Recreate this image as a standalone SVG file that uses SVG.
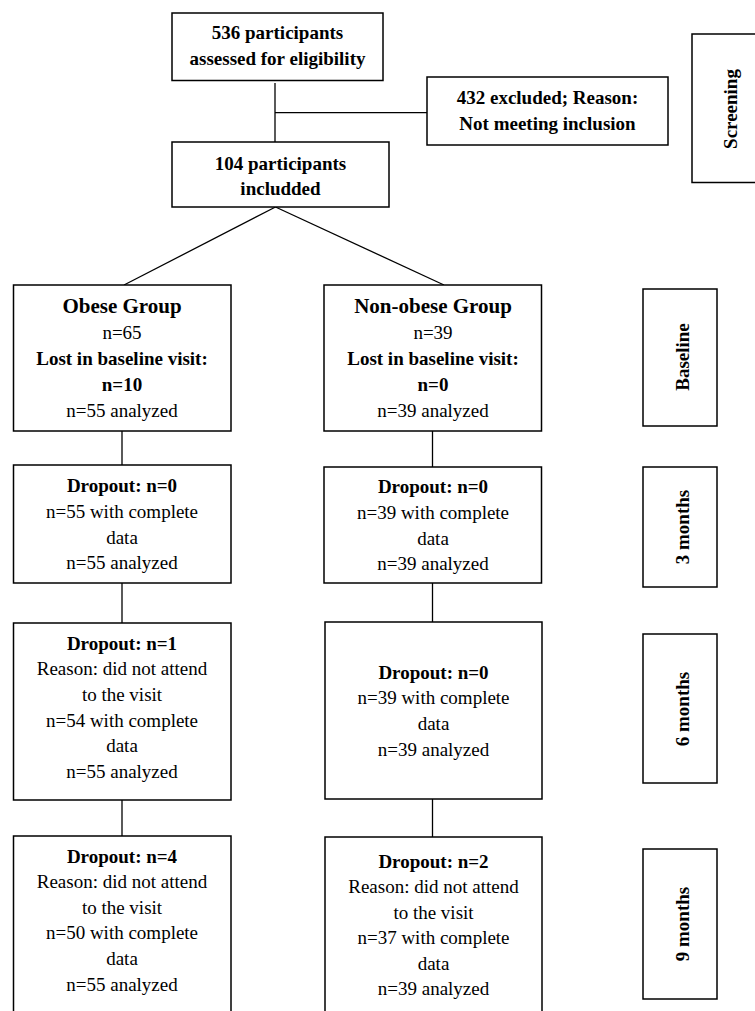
<svg xmlns="http://www.w3.org/2000/svg" width="755" height="1011" viewBox="0 0 755 1011" font-family="'Liberation Serif', Tinos, 'Times New Roman', 'DejaVu Serif', serif">
<style>
.box{fill:#fff;stroke:#000;stroke-width:1.5}
.ln{fill:none;stroke:#000;stroke-width:1.3}
text{font-family:'Liberation Serif', Tinos, 'Times New Roman', 'DejaVu Serif', serif;font-size:19px;fill:#000;text-anchor:middle}
.b{font-weight:bold}
.g{font-size:21px;font-weight:bold}
</style>
<rect width="755" height="1011" fill="#fff"/>
<g id="connectors">
<line class="ln" x1="275" y1="83" x2="275" y2="143"/>
<line class="ln" x1="275" y1="112.7" x2="427" y2="112.7"/>
<line class="ln" x1="275.5" y1="207" x2="124" y2="285"/>
<line class="ln" x1="275.5" y1="207" x2="444" y2="285"/>
<line class="ln" x1="122" y1="431" x2="122" y2="465"/>
<line class="ln" x1="122" y1="583" x2="122" y2="623"/>
<line class="ln" x1="122" y1="800" x2="122" y2="836"/>
<line class="ln" x1="432.5" y1="431" x2="432.5" y2="467"/>
<line class="ln" x1="432.5" y1="583" x2="432.5" y2="622"/>
<line class="ln" x1="432.5" y1="799" x2="432.5" y2="837"/>
</g>
<g id="assessed">
<rect class="box" x="172" y="13" width="211" height="67.5"/>
<text class="b" x="277.5" y="39">536 participants</text>
<text class="b" x="277.5" y="64.5">assessed for eligibility</text>
</g>
<g id="excluded">
<rect class="box" x="427" y="77" width="241" height="68"/>
<text class="b" x="547.5" y="104">432 excluded; Reason:</text>
<text class="b" x="547.5" y="129.5">Not meeting inclusion</text>
</g>
<g id="included">
<rect class="box" x="172" y="142" width="217" height="65"/>
<text class="b" x="280.5" y="169.5">104 participants</text>
<text class="b" x="280.5" y="194.5">includded</text>
</g>
<g id="obese-baseline">
<rect class="box" x="13.5" y="285" width="217.5" height="146"/>
<text class="g" x="122" y="313">Obese Group</text>
<text x="122" y="339">n=65</text>
<text class="b" x="122" y="365">Lost in baseline visit:</text>
<text class="b" x="122" y="390.5">n=10</text>
<text x="122" y="416.5">n=55 analyzed</text>
</g>
<g id="nonobese-baseline">
<rect class="box" x="324" y="285" width="217.5" height="146"/>
<text class="g" x="433" y="313">Non-obese Group</text>
<text x="433" y="339">n=39</text>
<text class="b" x="433" y="365">Lost in baseline visit:</text>
<text class="b" x="433" y="390.5">n=0</text>
<text x="433" y="416.5">n=39 analyzed</text>
</g>
<g id="obese-3m">
<rect class="box" x="13.5" y="465" width="217.5" height="118"/>
<text class="b" x="122" y="491.5">Dropout: n=0</text>
<text x="122" y="517.5">n=55 with complete</text>
<text x="122" y="543.5">data</text>
<text x="122" y="568.5">n=55 analyzed</text>
</g>
<g id="nonobese-3m">
<rect class="box" x="324" y="467" width="217.5" height="116"/>
<text class="b" x="433" y="493">Dropout: n=0</text>
<text x="433" y="518.5">n=39 with complete</text>
<text x="433" y="544.5">data</text>
<text x="433" y="570">n=39 analyzed</text>
</g>
<g id="obese-6m">
<rect class="box" x="13.5" y="623" width="217.5" height="177"/>
<text class="b" x="122" y="649.5">Dropout: n=1</text>
<text x="122" y="674.5">Reason: did not attend</text>
<text x="122" y="700.5">to the visit</text>
<text x="122" y="726.5">n=54 with complete</text>
<text x="122" y="751.5">data</text>
<text x="122" y="777.5">n=55 analyzed</text>
</g>
<g id="nonobese-6m">
<rect class="box" x="325" y="622" width="217" height="177"/>
<text class="b" x="433.5" y="678.5">Dropout: n=0</text>
<text x="433.5" y="703.5">n=39 with complete</text>
<text x="433.5" y="729.5">data</text>
<text x="433.5" y="755.5">n=39 analyzed</text>
</g>
<g id="obese-9m">
<rect class="box" x="13.5" y="836" width="217.5" height="200"/>
<text class="b" x="122" y="862.5">Dropout: n=4</text>
<text x="122" y="888">Reason: did not attend</text>
<text x="122" y="913.5">to the visit</text>
<text x="122" y="939">n=50 with complete</text>
<text x="122" y="964.5">data</text>
<text x="122" y="990.5">n=55 analyzed</text>
</g>
<g id="nonobese-9m">
<rect class="box" x="325" y="837" width="217" height="200"/>
<text class="b" x="433.5" y="867.5">Dropout: n=2</text>
<text x="433.5" y="893">Reason: did not attend</text>
<text x="433.5" y="918.5">to the visit</text>
<text x="433.5" y="944">n=37 with complete</text>
<text x="433.5" y="969.5">data</text>
<text x="433.5" y="994.5">n=39 analyzed</text>
</g>
<g id="phase-screening">
<rect class="box" x="692" y="34" width="100" height="148.5"/>
<text class="b" transform="translate(737,109) rotate(-90)">Screening</text>
</g>
<g id="phase-baseline">
<rect class="box" x="643" y="289" width="74" height="137"/>
<text class="b" transform="translate(689,357) rotate(-90)">Baseline</text>
</g>
<g id="phase-3m">
<rect class="box" x="643" y="467" width="74" height="120"/>
<text class="b" transform="translate(689,527) rotate(-90)">3 months</text>
</g>
<g id="phase-6m">
<rect class="box" x="643" y="634" width="74" height="149"/>
<text class="b" transform="translate(689,709) rotate(-90)">6 months</text>
</g>
<g id="phase-9m">
<rect class="box" x="643" y="849" width="74" height="150"/>
<text class="b" transform="translate(689,924) rotate(-90)">9 months</text>
</g>
</svg>
